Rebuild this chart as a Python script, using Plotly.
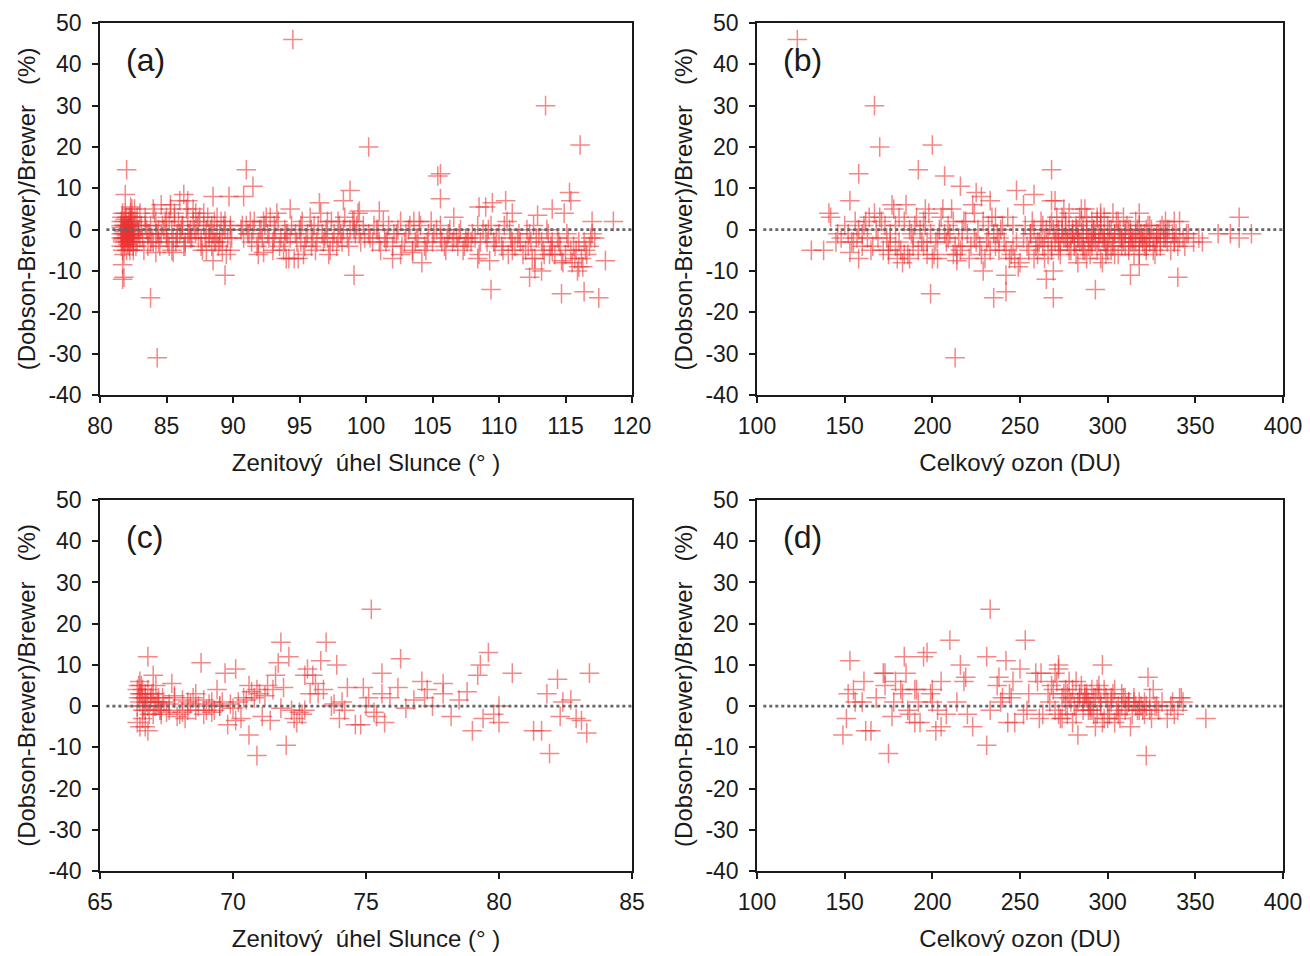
import plotly.graph_objects as go

# ---------------- Panel (a): zenith angle vs relative difference ----------------
sza_a = [
    81.6, 81.7, 81.8, 81.9, 82.0, 82.1, 82.2, 82.3, 82.4, 82.5,
    81.6, 81.7, 81.8, 81.9, 82.0, 82.1, 82.2, 82.3, 82.4, 82.5,
    81.6, 81.7, 81.8, 81.9, 82.0, 82.1, 82.2, 82.3, 82.4, 82.5,
    81.65, 81.75, 81.85, 81.95, 82.05, 82.15, 82.25, 82.35, 82.45, 82.55,
    82.6, 82.7, 82.8, 82.9, 83.0, 82.6, 82.7, 82.8, 82.9, 83.0,
    81.6, 81.8, 82.0, 82.2, 82.4, 81.7, 81.9, 82.1, 82.3, 82.5,
    81.6, 81.7, 81.8, 81.9, 82.0, 82.1, 82.2, 82.3, 82.4, 82.5,
    81.6, 81.7, 81.8, 81.9, 82.0, 82.1, 82.2, 82.3, 82.4, 82.5,
    82.0, 81.9, 81.7, 81.8, 81.7, 82.3, 82.6,
    83.2, 83.4, 83.6, 83.8, 84.0, 84.2, 84.4, 84.6, 84.8, 85.0,
    85.2, 85.4, 85.6, 85.8, 86.0, 86.2, 86.4, 86.6, 86.8, 87.0,
    87.2, 87.4, 87.6, 87.8, 88.0, 88.2, 88.4, 88.6, 88.8, 89.0,
    89.2, 89.4, 89.6, 89.8, 83.3, 83.7, 84.1, 84.5, 84.9, 85.3,
    85.7, 86.1, 86.5, 86.9, 87.3, 87.7, 88.1, 88.5, 88.9, 89.3,
    83.5, 83.9, 84.3, 84.7, 85.1, 85.5, 85.9, 86.3, 86.7, 87.1,
    87.5, 87.9, 88.3, 88.7, 89.1, 89.5, 89.9, 83.1, 84.0, 85.0,
    83.4, 83.8, 84.2, 84.6, 85.0, 85.4, 85.8, 86.2, 86.6, 87.0,
    87.4, 87.8, 88.2, 88.6, 89.0, 89.4, 89.8, 83.6, 84.4, 85.2,
    86.0, 86.8, 87.6, 88.4, 89.2, 85.6, 86.4, 87.2, 88.0, 88.8,
    83.8, 84.3, 88.5, 89.7, 89.4, 88.5, 89.8, 85.3, 86.3, 86.6, 84.2, 85.5,
    90.6, 90.8, 91.0, 91.2, 91.4, 91.6, 91.8, 92.0, 92.2, 92.4,
    92.6, 92.8, 93.0, 93.2, 93.4, 93.6, 93.8, 94.0, 94.2, 94.4,
    94.6, 94.8, 95.0, 95.2, 95.4, 95.6, 95.8, 96.0, 96.2, 96.4,
    96.6, 96.8, 97.0, 97.2, 97.4, 97.6, 97.8, 98.0, 98.2, 98.4,
    98.6, 98.8, 99.0, 99.2, 99.4, 99.6, 99.8, 91.3, 92.1, 93.1,
    94.1, 95.1, 96.1, 97.1, 98.1, 99.1, 91.9, 93.9, 95.9, 97.9,
    90.7, 91.1, 91.5, 91.9, 92.3, 92.7, 93.1, 93.5, 93.9, 94.3,
    94.7, 95.1, 95.5, 95.9, 96.3, 96.7, 97.1, 97.5, 97.9, 98.3,
    98.7, 99.1, 99.5, 99.9, 92.5, 95.3, 97.3, 99.3, 93.3, 96.9,
    94.5, 91.0, 91.5, 90.8, 98.8, 98.3, 96.5, 94.3, 99.1, 99.5, 94.0, 94.9, 92.3, 93.0,
    100.2, 100.5, 100.8, 101.1, 101.4, 101.7, 102.0, 102.3, 102.6, 102.9,
    103.2, 103.5, 103.8, 104.1, 104.4, 104.7, 105.0, 105.3, 105.6, 105.9,
    106.2, 106.5, 106.8, 107.1, 107.4, 107.7, 108.0, 100.6, 101.6, 102.6,
    103.6, 104.6, 105.6, 106.6, 107.6, 103.0, 104.0, 101.0, 106.0, 107.0,
    100.3, 100.9, 101.5, 102.1, 102.7, 103.3, 103.9, 104.5, 105.1, 105.7,
    106.3, 106.9, 107.5, 101.3, 102.4, 103.7, 104.9, 106.1, 107.3, 107.9,
    100.2, 105.4, 105.6, 105.6, 104.2, 103.5, 102.0, 106.6, 101.0,
    108.2, 108.5, 108.8, 109.1, 109.4, 109.7, 110.0, 110.3, 110.6, 110.9,
    111.2, 111.5, 111.8, 112.1, 112.4, 112.7, 113.0, 113.3, 113.6, 113.9,
    114.2, 114.5, 114.8, 115.1, 115.4, 115.7, 116.0, 116.3, 116.6, 116.9,
    108.4, 109.0, 109.6, 110.2, 110.8, 111.4, 112.0, 112.6, 113.2, 113.8,
    114.4, 115.0, 115.6, 116.2, 116.8, 117.2, 111.0, 112.3, 114.0, 115.9,
    108.6, 109.2, 109.8, 110.4, 111.0, 111.6, 112.2, 112.8, 113.4, 114.0,
    114.6, 115.2, 115.8, 116.4, 117.0, 110.7, 112.5, 113.7, 115.5, 116.5,
    109.4, 113.5, 116.1, 115.3, 115.4, 114.9, 114.0, 112.9, 112.3, 114.7,
    116.4, 117.5, 118.0, 118.6, 117.0, 110.5, 109.5, 109.0, 108.5, 111.0,
    112.7, 113.2, 109.3, 108.4, 116.0, 114.7,
]
diff_a = [
    -1, -3, 2, 0, -2, 1, -4, -1, 3, -2,
    1, -5, -2, 4, -1, -3, 0, 2, -1, -5,
    -2, 0, -6, 1, 3, -2, -1, -3, 5, 0,
    3, -1, -4, -2, 0, 2, -5, 1, -2, -3,
    -1, 2, -3, 0, -2, 1, -4, 3, -1, 4,
    0.5, -0.5, -1.5, 0.5, -0.5, -2.5, 2.5, -3.5, 1.5, -1.5,
    2, -2, 0, -3, 1, -1, 3, -2, 0, -4,
    -4, 4, 1, -1, -5, 0, -2, 4, -3, 2,
    14.5, 8.5, -8.5, -11.5, -12, 5.5, 5,
    -2, 3, -4, 1, 5, -1, -3, 6, 0, -2,
    2, -5, 4, -1, 7, 1, -3, 3, -2, 5,
    -1, 2, -4, 4, 0, -2, 1, -3, 3, -1,
    -5, 2, -2, 0, -5, -1, 4, -4, 2, 6,
    -3, 0, 5, -2, 1, -5, 3, -1, -4, 1,
    0, -2, -1, 1, -3, -2, 2, -4, -1, 0,
    3, -2, 0, -3, 2, -6, -2, 1, -3, -1,
    1, -3, 2, -1, 3, 0, -2, 1, -1, 2,
    -2, 1, -1, 2, -3, 0, 1, -1, 0, -4,
    -1, 0, -2, -4, -2, 3, -4, 4, -5, -1,
    -16.5, -31, 8, 8, -11, -7.5, -5, 5, 8.5, 7, -5.5, -5.5,
    0, -2, 1, -1, -3, 2, -4, 0, -2, 1,
    -1, 3, -3, 0, 2, -2, -5, -1, -7, 1,
    -7, -3, 0, 2, -4, -1, 3, -2, -5, 1,
    4, -3, 0, -6, 2, -1, -4, 1, -3, 3,
    -2, 0, 2, -1, 4, -3, 1, 2, 0, -2,
    -1, -3, 1, -2, -1, 0, -6, -3, -4, 2,
    1, -1, 0, -3, 2, -2, 1, -4, 0, -2,
    -1, 1, -2, 0, -3, -1, 2, -3, -2, 0,
    -4, 2, -1, -2, 3, -6, -5, 1, 4, -2,
    46, 14.5, 10.5, 8, 9.5, 7, 6.5, 5, -11, 4.5, -7, -7, -5.5, -5,
    -1, -3, 0, -5, -2, 1, -4, -1, 2, -3,
    0, -5, -2, 1, -4, -1, -3, 0, -2, -4,
    -1, -3, -2, 0, -4, -2, -1, 1, -2, -6,
    2, -3, 1, -2, -3, -1, 2, -3, -5, -1,
    -2, 0, -3, -1, -4, 1, -2, -5, -1, -3,
    0, -4, -2, 2, 0, -3, 2, -2, -5, -3,
    20, 13, 13.5, 7.5, -8, -5.5, -7, 3, 4.5,
    -2, -6, 0, -3, 1, -4, -1, -5, 2, -2,
    -4, -1, -6, 0, -3, -7, -2, -5, 0, -4,
    -6, -3, -8, -1, -5, -7, -3, -9, -6, -2,
    1, -1, -3, -4, 0, -2, -5, 1, -3, -6,
    -2, -6, -4, -7, -4, -2, -3, -1, -5, -10,
    -3, 0, -2, 1, -5, -3, -4, -2, -6, -3,
    -4, -2, -5, -3, -1, -6, -7, -1, -8, -5,
    -14.5, 30, 20.5, 9, 7, 4, 5, 3.5, -11.5, -15.5,
    -15, -16.5, -7.5, 2, 2, 7, 6.5, 5.5, 5.5, 4,
    -9.5, -10, -7.5, -7, -9, -7.5,
]

# ---------------- Panel (b): total ozone vs relative difference ----------------
ozone_b = [
    123, 167, 170, 200, 158, 192, 207, 268, 216, 225,
    228, 233, 248, 252, 258, 268, 270, 153, 141, 142,
    131, 138, 145, 153, 158, 199, 213, 235, 242, 242,
    265, 269, 269, 293, 313, 318, 340, 229, 214, 375,
    382, 370, 363, 375, 354, 345, 338, 318, 285, 296, 341,
    146, 150, 154, 158, 162, 166, 170, 174, 178, 182,
    186, 190, 194, 198, 148, 152, 156, 160, 164, 168,
    172, 176, 180, 184, 188, 192, 196, 200, 163, 167,
    171, 175, 179, 183, 187, 191, 195, 199, 177, 181,
    185, 189, 193, 197, 165, 173, 157, 179, 195, 187,
    155, 161, 169, 175, 181, 189, 197, 203, 209, 217,
    224, 232, 238, 246, 160, 176, 184, 196, 212, 236,
    202, 206, 210, 214, 218, 222, 226, 230, 234, 238,
    242, 246, 250, 204, 208, 212, 216, 220, 224, 228,
    232, 236, 240, 244, 248, 201, 205, 209, 213, 217,
    221, 225, 229, 233, 237, 241, 245, 249, 203, 211,
    219, 227, 235, 243, 247, 207, 215, 223, 231, 239,
    252, 255, 258, 261, 264, 267, 270, 273, 276, 279,
    282, 285, 288, 291, 294, 297, 300, 303, 306, 309,
    312, 315, 318, 321, 324, 327, 330, 333, 336, 339,
    253, 256, 259, 262, 265, 268, 271, 274, 277, 280,
    283, 286, 289, 292, 295, 298, 301, 304, 307, 310,
    313, 316, 319, 322, 325, 328, 331, 334, 337, 340,
    254, 257, 260, 263, 266, 269, 272, 275, 278, 281,
    284, 287, 290, 293, 296, 299, 302, 305, 308, 311,
    314, 317, 320, 323, 326, 329, 332, 335, 338, 341,
    271, 274, 277, 280, 283, 286, 289, 292, 295, 298,
    301, 304, 307, 310, 313, 316, 319, 322, 272, 276,
    279, 282, 285, 288, 291, 294, 297, 300, 303, 306,
    309, 312, 315, 318, 321, 324, 327, 330, 333, 343,
    346, 349, 352, 344, 275, 283, 287, 291, 296, 299,
    256, 260, 264, 268, 272, 276, 280, 284, 288, 292,
    296, 300, 304, 308, 312, 316, 320, 324, 328, 332,
    262, 266, 270, 274, 278, 282, 286, 290, 294, 298,
    302, 306, 310, 314, 318, 322, 326, 330, 334, 338,
    258, 263, 268, 273, 278, 283, 288, 293, 298, 303,
    308, 313, 318, 323, 328, 333, 281, 286, 291, 296,
]
diff_b = [
    46, 30, 20, 20.5, 13.5, 14.5, 13, 14.5, 10.5, 9,
    8, 7, 9.5, 6, 8.5, 7, 7, 7, 4, 3,
    -5, -5, -3, -5.5, -7, -15.5, -31, -16.5, -15, -11,
    -12, -16.5, -10, -14.5, -11, -8.5, -11.5, -10, -7.5, 3,
    -1, -1, -1, -2, -3, -1, 2, 4, 5, 3, 2,
    -1, 1, -3, 0, 2, -4, 3, -2, 5, -5,
    -6, 1, -3, 4, -2, -1, 2, -4, 3, 0,
    -5, -3, -7, 2, -1, -5, 5, -7, -2, 4,
    2, -6, 1, -8, 0, 3, -4, -1, 6, -3,
    6, -2, 0, -6, -5, 1, -2, -4, 2, -7,
    -3, 1, -2, -5, 3, -4, -3, -2, 1, -4,
    -2, 1, -5, -4, -1, -1, -6, 1, -6, 3,
    -3, 5, -1, -6, 2, -4, 0, -7, 3, -2,
    -5, 1, -8, 0, -3, 2, -5, -1, 4, -6,
    -2, -4, 1, -7, -3, -6, 3, -2, -4, 0,
    -7, -3, 2, -5, -1, -3, -6, -9, -7, 5,
    2, -4, -1, 3, -7, -1, -2, 6, -3, 0,
    -2, -5, 0, -3, -7, 1, -1, -4, 2, -2,
    0, -3, -1, 2, -5, -2, 1, -4, -1, -3,
    0, -2, -4, -1, 1, -3, 0, -2, -5, -1,
    1, -1, -4, -2, 0, -5, 3, -1, -3, 0,
    -2, 1, -4, 0, -1, 3, -2, -6, 0, -1,
    -3, 2, -1, -4, 0, -2, 1, -3, -1, -4,
    -4, 2, -6, 1, -2, 0, -5, -2, 4, -4,
    3, -5, -2, -3, 1, -6, 0, 2, -4, 1,
    -2, 0, -3, 1, -5, -1, -2, 0, -3, -2,
    -1, 0, -2, -1, 0, -1, -2, 0, -3, -1,
    0, -1, -2, 0, -1, -3, -2, 0, -3, 1,
    -5, -6, 2, -7, -4, 3, -8, -5, 4, -6,
    3, -5, -6, -2, -4, -2, -6, -3, 2, -2,
    -1, -3, -2, -4, 5, -8, 5, -3, -7, -4,
    -1, -3, -2, -4, 0, -2, -1, -3, 0, -2,
    -1, -3, -1, -2, -4, -1, -2, -3, -1, 0,
    2, -6, -3, 3, -5, 1, -4, -6, 2, -3,
    -5, 2, -4, -3, 1, -5, -2, -4, 0, -3,
    -7, -4, 2, -6, 0, -2, 3, -1, -2, -3,
    -2, 0, -6, -2, -4, -1, -3, -5, -1, 4,
]

# ---------------- Panel (c): zenith angle vs relative difference ----------------
sza_c = [
    66.4, 66.5, 66.6, 66.7, 66.8, 66.9, 67.0, 67.1, 67.2, 67.3,
    66.4, 66.5, 66.6, 66.7, 66.8, 66.9, 67.0, 67.1, 67.2, 67.3,
    66.45, 66.55, 66.65, 66.75, 66.85, 66.95, 67.05, 67.15, 67.25, 67.35,
    66.4, 66.5, 66.6, 66.7, 66.8, 66.5, 66.6, 66.7, 66.45, 66.55,
    66.8, 67.0, 67.7, 68.8, 69.7, 70.1, 70.9, 70.6, 72.0, 71.8,
    71.7, 72.1, 73.5, 73.3, 75.2, 76.3, 75.6, 77.1, 79.6, 79.3,
    79.2, 80.5, 82.2, 83.4, 81.9, 83.3, 79.0, 80.0, 81.3, 81.6,
    82.3, 82.9, 83.1, 81.8, 82.4, 82.7, 80.0, 79.8, 79.4, 78.8,
    78.5, 78.2, 77.9, 77.9, 77.5, 77.3, 77.2, 76.8, 76.5, 76.2,
    75.9, 75.7, 75.6, 75.4, 75.1, 74.8, 74.9, 74.6, 74.3, 74.2,
    74.0, 74.1, 73.8, 73.9, 73.4, 73.1, 72.9, 72.7, 72.7, 72.5,
    72.3, 72.4, 72.2, 71.9, 71.5, 71.3, 71.6, 71.2, 70.9, 70.8,
    70.6, 70.5, 70.3, 70.1, 70.4, 69.8, 69.4, 69.5, 69.2, 69.0,
    68.7, 68.5, 68.3, 68.1, 67.9, 67.8, 67.5, 67.6, 68.0, 68.2,
    68.4, 68.6, 68.9, 69.1, 69.3, 69.6, 69.9, 70.2, 70.0, 71.0,
    71.1, 71.4, 70.7, 72.6, 73.0, 73.2, 73.7, 72.8, 75.0, 75.3,
    71.8, 67.4, 67.6, 67.8, 68.1, 68.3, 68.6, 68.9, 69.2, 69.5,
]
diff_c = [
    4, 1, -1, 3, 0, 2, -2, 5, 1, -1,
    0, 3, 2, -1, 4, 1, 3, 0, 2, -2,
    2, 5, 0, 1, -2, 3, 0, 1, -1, 2,
    -4, -5, -3, -5, -6, 6, 4, 2, 5, 3,
    12, 7.5, 5.5, 10.5, 8, 9, -12, -7, -9.5, 15.5,
    10.5, 12, 15.5, 11, 23.5, 11.5, 8, 6, 13, 10,
    7.5, 8, 6.5, 8, -11.5, -6.5, -6, -4, -6, -6,
    -2.5, -3, -3.5, 3, 1, 1.5, 0, -2, -3, 3.5,
    1.5, -2.5, 5.5, 3, 0, 4, 2, 1.5, -0.5, 4.5,
    2, -4, 3, -2.5, 2, -4.5, 4.5, -4.5, 4.5, -1,
    -3, 1, 0.5, 10, 4, 5.5, 3, 7.5, -1, -1.5,
    -3, -4, -1, 4.5, 4, 5, 7.5, 2.5, 4, 2,
    5, 1.5, -3, -3.5, 2, -4.5, 4, 0, 1, -1,
    0, 2, -1, 1.5, -2.5, 2, -1.5, 0.5, -2, -3,
    0.5, -1, -2, 0.5, -1, 1, 0.5, 1, -0.5, 3,
    -2.5, -3.5, 3.5, -2, 7.5, 3, 0, 9, 0, -1.5,
    -0.5, 1, -1, 2.5, -1.5, 1, 3, 1.5, -1.5, 0,
]

# ---------------- Panel (d): total ozone vs relative difference ----------------
ozone_d = [
    149, 151, 153, 152, 155, 156, 160, 161, 162, 165,
    168, 172, 173, 173, 175, 177, 178, 179, 182, 183,
    184, 185, 186, 187, 190, 190, 191, 192, 193, 195,
    197, 199, 200, 200, 202, 203, 205, 205, 208, 210,
    214, 216, 218, 219, 220, 223, 231, 231, 233, 233,
    237, 238, 239, 240, 242, 243, 244, 245, 246, 247,
    250, 252, 253, 254, 255, 259, 260, 261, 262, 263,
    266, 268, 270, 272, 274, 276, 278, 280, 282, 284,
    286, 288, 290, 292, 294, 296, 298, 300, 302, 304,
    306, 308, 310, 312, 314, 316, 318, 320, 322, 324,
    267, 269, 271, 273, 275, 277, 279, 281, 283, 285,
    287, 289, 291, 293, 295, 297, 299, 301, 303, 305,
    307, 309, 311, 313, 315, 317, 319, 321, 323, 325,
    327, 329, 334, 337, 340, 342, 343, 356, 322, 326,
    270, 274, 278, 282, 286, 290, 294, 298, 302, 306,
    272, 276, 280, 284, 288, 292, 296, 300, 304, 308,
    272, 277, 283, 287, 289, 291, 293, 295, 297, 310,
    312, 315, 318, 321, 324, 328, 331, 336, 338, 341,
]
diff_d = [
    -7, -3, 11, 3, 4, 1, 1, 6, -6, -6,
    2, 8, 8, 5, -11.5, -2.5, 1, 6, 4, 3,
    12, 8, -1, -2, 4, -4, 4, 1, -4, 12,
    13, 3, 4, 1, -6, -1, 6, -5, -2, 16,
    1, 10, 6, 7, -2, -5, 12, -9.5, 23.5, -1,
    5, 7, 1, 2, 11, -4, 3, 2, 6, -4,
    9, -2, 16, -1, 3, 8, 6, -3, 8, -2,
    3, 5, -1, 9, 2, 0, 6, 4, -2, 2,
    1, 3, -1, 2, 4, 0, -3, 1, 2, -4,
    0, 3, -1, 1, -2, 0, 1, -1, 0, 2,
    1, 4, 6, -3, 3, -2, 1, 0, -7, 5,
    2, -1, 4, -5, 5, 10, 2, -2, 3, -1,
    -3, 2, 0, -5, 1, -1, 0, -2, 7, -3,
    0, -1, -3, 1, -1, 2, 1, -3, -12, 4,
    8, -3, 2, 6, -1, 0, -2, 4, 1, -2,
    10, 4, -4, 3, 2, -2, 1, -3, 4, 0,
    -2, 3, 1, 3, 1, -1, 2, 3, -4, 2,
    1, 2, -1, 1, -1, 0, 1, 0, -2, 2,
]

# ---------------- Axis texts and ticks ----------------
panel_labels = ["(a)", "(b)", "(c)", "(d)"]
x_titles = ["Zenitový  úhel Slunce (° )", "Celkový ozon (DU)",
            "Zenitový  úhel Slunce (° )", "Celkový ozon (DU)"]
y_title = "(Dobson-Brewer)/Brewer   (%)"
y_ticks = [-40, -30, -20, -10, 0, 10, 20, 30, 40, 50]
y_tick_labels = ["-40", "-30", "-20", "-10", "0", "10", "20", "30", "40", "50"]
x_ticks_sza_a = [80, 85, 90, 95, 100, 105, 110, 115, 120]
x_ticks_ozone = [100, 150, 200, 250, 300, 350, 400]
x_ticks_sza_c = [65, 70, 75, 80, 85]

panels = [
    (sza_a, diff_a, x_ticks_sza_a),
    (ozone_b, diff_b, x_ticks_ozone),
    (sza_c, diff_c, x_ticks_sza_c),
    (ozone_d, diff_d, x_ticks_ozone),
]

# page body has an 8 px default margin, so the figure is 8 px smaller
OFF = 8
W, H = 1310 - OFF, 956 - OFF
col_x = [(100 - OFF, 632 - OFF), (757 - OFF, 1283 - OFF)]
row_y = [(23 - OFF, 395 - OFF), (500 - OFF, 871 - OFF)]

fig = go.Figure()
marker = dict(symbol="cross-thin", size=14,
              line=dict(color="rgba(236,50,50,0.58)", width=1.5))
for i, (xs, ys, xt) in enumerate(panels):
    suffix = "" if i == 0 else str(i + 1)
    fig.add_trace(go.Scatter(x=xs, y=ys, mode="markers", marker=marker,
                             xaxis="x" + suffix, yaxis="y" + suffix,
                             showlegend=False, hoverinfo="x+y"))

font_family = "Liberation Sans, Arial, sans-serif"
ink = "#1a1a1a"
layout = dict(width=W, height=H, margin=dict(l=0, r=0, t=0, b=0),
              paper_bgcolor="white", plot_bgcolor="white",
              font=dict(family=font_family, size=23, color=ink),
              showlegend=False)

annotations = []
shapes = []
for i, (xs, ys, xt) in enumerate(panels):
    r, c = divmod(i, 2)
    x0p, x1p = col_x[c]
    y0p, y1p = row_y[r]
    suffix = "" if i == 0 else str(i + 1)
    layout["xaxis" + suffix] = dict(
        domain=[x0p / W, x1p / W], range=[xt[0], xt[-1]],
        tickmode="array", tickvals=xt, ticktext=[str(v) for v in xt],
        anchor="y" + suffix, showgrid=False, zeroline=False, automargin=False,
        showline=True, linecolor=ink, linewidth=1.5, mirror=True,
        ticks="outside", ticklen=6, tickwidth=1.5, tickcolor=ink,
        ticklabelstandoff=4,
        tickfont=dict(size=23), title=dict(text=x_titles[i], standoff=16,
                                           font=dict(size=24)))
    layout["yaxis" + suffix] = dict(
        domain=[1 - y1p / H, 1 - y0p / H], range=[-40, 50],
        tickmode="array", tickvals=y_ticks, ticktext=y_tick_labels,
        anchor="x" + suffix, showgrid=False, zeroline=False, automargin=False,
        showline=True, linecolor=ink, linewidth=1.5, mirror=True,
        ticks="outside", ticklen=6, tickwidth=1.5, tickcolor=ink,
        ticklabelstandoff=6,
        tickfont=dict(size=23), title=dict(text=y_title, standoff=6,
                                           font=dict(size=24)))
    annotations.append(dict(text=panel_labels[i], xref=("x" + suffix) + " domain",
                            yref=("y" + suffix) + " domain", x=0.045, y=0.955,
                            xanchor="left", yanchor="top", showarrow=False,
                            font=dict(size=32, color=ink)))
    shapes.append(dict(type="line", xref=("x" + suffix) + " domain",
                       yref="y" + suffix, x0=0.012, x1=1, y0=0, y1=0,
                       line=dict(color="#666666", width=2.8, dash="dot"),
                       layer="above"))

layout["annotations"] = annotations
layout["shapes"] = shapes
fig.update_layout(**layout)
fig.write_html("out.html")
